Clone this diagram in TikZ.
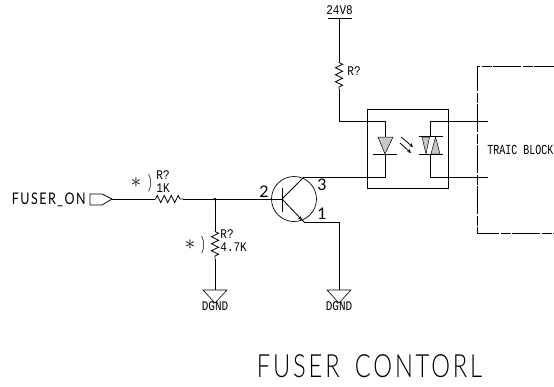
\documentclass[tikz,border=0pt]{standalone}
\usepackage{fontspec}
\setmainfont{Liberation Mono}
\newfontfamily\thinfont[LetterSpace=12]{Lato Light}
\newfontfamily\pinfont[LetterSpace=12]{Lato}
\usetikzlibrary{decorations.pathmorphing,arrows.meta}
\begin{document}
\begin{tikzpicture}[x=1pt,y=-1pt,-,>=stealth,line width=0.8pt,
    res/.style={decorate,decoration={zigzag,segment length=7pt,amplitude=3.6pt,pre length=0.5pt,post length=0.5pt}},
    gnd node/.style={draw,fill=white,line width=0.6pt},
    chip/.style={draw,fill=black!22,line width=0.5pt},
    small label/.style={inner sep=0pt,yscale=1.2,font=\fontsize{11}{11}\selectfont},
    pin label/.style={inner sep=0pt,font=\pinfont\fontsize{16}{16}\selectfont},
    paren label/.style={inner sep=0pt,yscale=1.25,font=\thinfont\fontsize{16}{16}\selectfont},
    star label/.style={inner sep=0pt,font=\fontsize{21}{21}\selectfont}]

                \useasboundingbox (0,0) rectangle (554,386);

                % left side, input and resistors
                \node[pin label,anchor=east,xscale=0.78] (fuseron) at (86,199.5){FUSER\_ON};
                \coordinate (porttip) at (112,199);
                \draw[line width=0.7pt] (90,194) -- (102,194) -- (porttip) -- (102,205) -- (90,205) -- cycle;
                \coordinate (r1a) at (155,199);
                \coordinate (r1b) at (183,199);
                \coordinate (junc) at (215,199);
                \coordinate (base) at (282,199);
                \coordinate (r2a) at (215,231);
                \coordinate (r2b) at (215,259);
                \coordinate (gnd1) at (215,290);
                \draw[-] (porttip) to (r1a);
                \draw[res] (r1a) to (r1b);
                \draw[-] (r1b) to (junc);
                \draw[-] (junc) to (base);
                \draw[-] (junc) to (r2a);
                \draw[res] (r2a) to (r2b);
                \draw[-] (r2b) to (gnd1);
                \fill (junc) circle (1.5);
                \draw[gnd node] (203,290) -- (227,290) -- (215,303) -- cycle;
                \node[small label] (dgnd1) at (215,306.5){DGND};

                \node[star label] (star1) at (136,183){$\ast$};
                \node[paren label] (paren1) at (150,183){)};
                \node[small label] (r1name) at (163,175.5){R?};
                \node[small label] (r1val) at (163,188.5){1K};
                \node[star label] (star2) at (190,245){$\ast$};
                \node[paren label] (paren2) at (203,245){)};
                \node[small label,anchor=west] (r2name) at (220,234.5){R?};
                \node[small label,anchor=west] (r2val) at (220,247.5){4.7K};

                % transistor
                \node[circle,draw,minimum size=45pt,inner sep=0pt,line width=0.7pt] (q1) at (294,199){};
                \draw[-] (282,188) to (282,212);
                \coordinate (coll) at (304,177);
                \coordinate (emit) at (304,222);
                \coordinate (emitb) at (339,222);
                \coordinate (gnd2) at (339,290);
                \draw[-] (base) to (coll);
                \draw[-{Stealth[length=4pt,width=4pt]}] (base) to (302,220);
                \draw[-] (302,220) to (emit);
                \draw[-] (emit) to (emitb) to (gnd2);
                \draw[gnd node] (327,290) -- (351,290) -- (339,303) -- cycle;
                \node[small label] (dgnd2) at (339,306.5){DGND};
                \node[pin label] (pin2) at (264,192){2};
                \node[pin label] (pin3) at (322,185){3};
                \node[pin label] (pin1) at (322,214){1};

                % 24V8 feed
                \coordinate (vcc) at (339,18);
                \coordinate (r3a) at (339,62);
                \coordinate (r3b) at (339,89);
                \coordinate (leda) at (385,121);
                \coordinate (ledb) at (385,177);
                \draw[-] (328,18) to (352,18);
                \node[small label] (vname) at (339.5,10.5){24V8};
                \draw[-] (vcc) to (r3a);
                \draw[res] (r3a) to (r3b);
                \draw[-] (r3b) to (339,121) to (leda) to (385,137);
                \node[small label,anchor=west] (r3name) at (347,71){R?};
                \draw[-] (coll) to (ledb) to (385,154);

                % opto coupler
                \node[draw,minimum width=81pt,minimum height=79pt,inner sep=0pt] (opto) at (407.5,148.5){};
                \draw[chip] (378,137) -- (393,137) -- (385,154) -- cycle;
                \draw[-] (373,154) to (397,154);
                \draw[chip] (422,137) -- (429.5,137) -- (426,154) -- cycle;
                \draw[chip] (431,154) -- (440,154) -- (435.5,137) -- cycle;
                \draw[-] (419,136) to (443,136);
                \draw[-] (419,154) to (443,154);
                \draw[->] (401,137) to (413,147);
                \draw[->] (400,143) to (411,153);
                \coordinate (tra) at (488,121);
                \coordinate (trb) at (488,177);
                \draw[-] (430,136) to (430,121) to (tra);
                \draw[-] (430,154) to (430,177) to (trb);

                % triac block
                \draw[dash pattern=on 28pt off 1.5pt on 10pt off 1.5pt,dash phase=8pt] (554,66) -- (477,66) -- (477,233) -- (554,233);
                \node[small label,anchor=west,font=\fontsize{10}{10}\selectfont,yscale=1.15] (triac) at (487,150){TRAIC BLOCK};

                \node[inner sep=0pt,font=\thinfont\fontsize{32}{32}\selectfont,xscale=0.74] (title) at (369.5,366.5){FUSER\hspace{8pt} CONTORL};
                ;
            \end{tikzpicture}
\end{document}
